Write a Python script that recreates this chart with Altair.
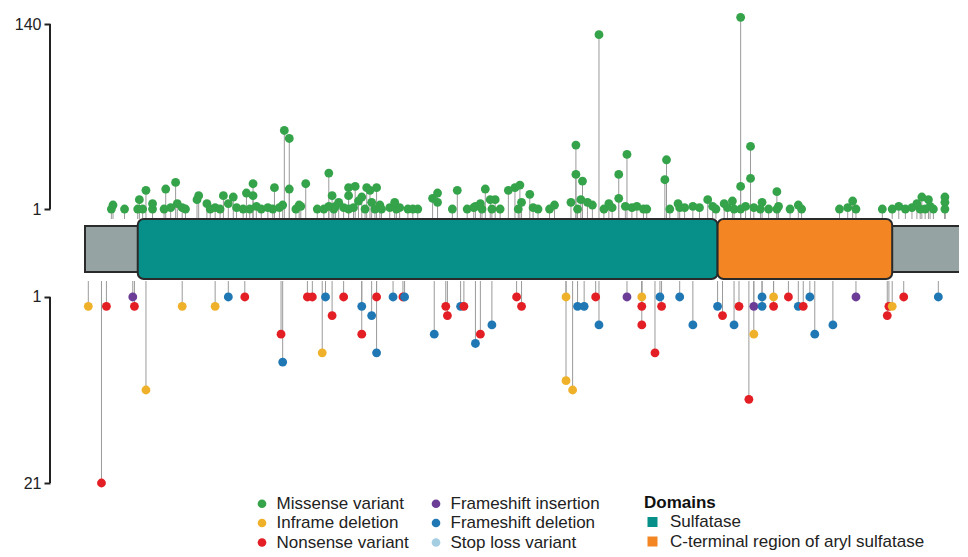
import altair as alt
import pandas as pd

FONT = "Liberation Sans, Arial, Helvetica, sans-serif"

# ---------------- protein & domains ----------------
protein_length = 533
domain_names = ["Sulfatase", "C-terminal region of aryl sulfatase"]
domain_start = [32, 384]
domain_end = [384, 490]
domain_colors = ["#078f89", "#f38522"]
backbone_color = "#96a3a3"

# ---------------- variant classes ----------------
variant_types = ["Missense variant", "Inframe deletion", "Nonsense variant",
                 "Frameshift insertion", "Frameshift deletion", "Stop loss variant"]
variant_colors = ["#35a34a", "#f0b12a", "#e31e24", "#6c3d97", "#1f77b4", "#a6cee3"]
type_codes = {"M": "Missense variant", "P": "Frameshift insertion", "I": "Inframe deletion",
              "D": "Frameshift deletion", "N": "Nonsense variant", "S": "Stop loss variant"}

top_ticks = [1, 140]
bottom_ticks = [1, 21]

# ---------------- top track (missense) ----------------
top_position = [16, 17, 24, 32, 33, 35, 37, 41, 41, 48, 49, 52, 55, 56, 59, 61, 68, 69, 74, 76,
                79, 82, 84, 87, 90, 92, 96, 98, 100, 102, 102, 104, 107, 111, 114, 115, 118, 120, 121, 124,
                124, 128, 130, 131, 134, 141, 145, 148, 148, 150, 151, 152, 154, 157, 160, 160, 160, 163, 164, 166,
                168, 170, 171, 173, 174, 176, 177, 179, 180, 185, 188, 189, 191, 196, 199, 202, 211, 214, 214, 223,
                226, 232, 236, 237, 240, 241, 243, 246, 247, 249, 252, 257, 261, 263, 264, 265, 270, 272, 275, 282,
                285, 295, 298, 298, 299, 301, 302, 305, 308, 312, 315, 318, 320, 324, 324, 328, 329, 332, 335, 339,
                341, 352, 353, 355, 360, 361, 364, 369, 373, 378, 381, 383, 388, 390, 393, 394, 398, 398, 398, 401,
                404, 404, 406, 410, 411, 415, 420, 420, 421, 428, 433, 435, 458, 463, 466, 468, 484, 490, 494, 498,
                502, 505, 507, 508, 510, 512, 513, 515, 522, 522, 522, 535]
top_count = [1, 4, 1, 1, 8, 1, 15, 1, 5, 1, 16, 2, 21, 5, 2, 1, 8, 11, 5, 1,
             2, 1, 11, 5, 10, 2, 1, 13, 1, 20, 11, 3, 1, 2, 1, 17, 2, 4, 60, 54,
             16, 1, 4, 3, 20, 1, 1, 28, 3, 11, 1, 3, 6, 2, 17, 1, 11, 2, 18, 7,
             10, 1, 17, 15, 6, 1, 17, 4, 1, 2, 6, 1, 2, 1, 1, 1, 9, 13, 6, 1,
             15, 1, 2, 3, 5, 1, 16, 8, 1, 8, 1, 15, 17, 1, 19, 6, 12, 2, 1, 1,
             4, 6, 49, 27, 1, 8, 22, 6, 4, 132, 1, 5, 2, 27, 9, 3, 42, 2, 3, 1,
             1, 23, 38, 1, 5, 2, 2, 3, 2, 8, 3, 1, 5, 2, 7, 1, 1, 145, 18, 3,
             48, 24, 2, 1, 6, 1, 14, 1, 3, 1, 4, 1, 1, 2, 7, 1, 1, 1, 3, 1,
             2, 5, 1, 10, 1, 8, 3, 1, 10, 6, 1, 3]

# ---------------- bottom track (truncating / indel) ----------------
bottom_position = [2, 10, 13, 29, 30, 37, 59, 79, 87, 97, 119, 120, 135, 138, 144, 146, 150, 157, 168, 168,
                   174, 177, 177, 187, 193, 194, 212, 219, 220, 228, 230, 237, 240, 247, 262, 265, 292, 292, 296, 299,
                   303, 310, 312, 329, 338, 338, 338, 346, 349, 350, 361, 369, 384, 387, 394, 397, 403, 406, 406, 411,
                   411, 418, 418, 427, 433, 436, 440, 443, 454, 468, 487, 488, 490, 497, 518, 534, 536]
bottom_count = [2, 21, 2, 1, 2, 11, 2, 2, 1, 1, 5, 8, 1, 1, 7, 1, 3, 1, 2, 5,
                3, 7, 1, 1, 1, 1, 5, 2, 3, 2, 2, 6, 5, 4, 1, 2, 1, 10, 11, 2,
                2, 1, 4, 1, 1, 2, 4, 7, 1, 2, 1, 4, 2, 3, 4, 2, 12, 2, 5, 1,
                2, 1, 2, 1, 2, 2, 1, 5, 4, 1, 3, 2, 2, 1, 1, 4, 14]
bottom_type = ["I", "N", "N", "P", "N", "I", "I", "I", "D", "N", "N", "D", "N", "N", "I", "D", "N", "N", "D", "N",
               "D", "D", "N", "D", "N", "D", "D", "N", "N", "D", "N", "D", "N", "D", "N", "N", "I", "I", "I", "D",
               "D", "N", "D", "P", "I", "N", "N", "N", "D", "N", "D", "D", "D", "N", "D", "N", "N", "P", "I", "D",
               "D", "I", "N", "N", "D", "N", "D", "D", "D", "P", "N", "N", "I", "N", "D", "N", "D"]

top_df = pd.DataFrame({"position": top_position, "count": top_count,
                       "type": ["Missense variant"] * len(top_position)})
bottom_df = pd.DataFrame({"position": bottom_position, "count": bottom_count,
                          "type": [type_codes[t] for t in bottom_type]})
domain_df = pd.DataFrame({"name": domain_names, "start": domain_start, "end": domain_end})
backbone_df = pd.DataFrame({"start": [0], "end": [protein_length]})
top_axis_df = pd.DataFrame({"lo": [top_ticks[0]], "hi": [top_ticks[1]]})
bottom_axis_df = pd.DataFrame({"lo": [bottom_ticks[0]], "hi": [bottom_ticks[1]]})

W = 909
H_TOP = 210
H_MID = 60
H_BOT = 212

x_scale = alt.Scale(domain=[-21.25, 530.55], nice=False, zero=False)
y_top_scale = alt.Scale(domain=[-6.51, 151.27], nice=False, zero=False)
y_bot_scale = alt.Scale(domain=[-0.935, 21.86], nice=False, zero=False, reverse=True)

LEG_FS = 17
color_scale = alt.Scale(domain=variant_types, range=variant_colors)
color_legend = alt.Legend(orient="none", legendX=203.5, legendY=486, columns=2, title=None,
                          symbolType="circle", symbolSize=75, symbolStrokeWidth=0,
                          labelFontSize=LEG_FS, labelFont=FONT, labelColor="#222222",
                          rowPadding=1.5, columnPadding=18, labelOffset=6, labelLimit=400)
fill_legend = alt.Legend(orient="none", legendX=594, legendY=486, title="Domains",
                         titleFontSize=LEG_FS, titleFont=FONT, titleFontWeight="bold", titleColor="#111111",
                         titlePadding=1.5, symbolType="square", symbolSize=100, symbolStrokeWidth=0,
                         labelFontSize=LEG_FS, labelFont=FONT, labelColor="#222222",
                         rowPadding=1.5, labelOffset=9, labelLimit=400)


def y_axis(ticks):
    return alt.Axis(values=ticks, domain=False, grid=False, ticks=True, tickSize=6, tickWidth=2,
                    tickColor="#222222", labelFontSize=16, labelFont=FONT, labelColor="#222222",
                    labelPadding=3, title=None)


stem_color = "#9a9a9a"
DOT = 78

# ---- top panel ----
top_base = alt.Chart(top_df)
top_stems = top_base.mark_rule(color=stem_color, strokeWidth=1, clip=True).encode(
    x=alt.X("position:Q", scale=x_scale, axis=None),
    y=alt.Y("count:Q", scale=y_top_scale, axis=y_axis(top_ticks)),
    y2=alt.value(H_TOP),
)
top_dots = top_base.mark_circle(size=DOT, opacity=1, clip=True).encode(
    x=alt.X("position:Q", scale=x_scale, axis=None),
    y=alt.Y("count:Q", scale=y_top_scale, axis=y_axis(top_ticks)),
    color=alt.Color("type:N", scale=color_scale, legend=color_legend),
)
top_line = alt.Chart(top_axis_df).mark_rule(color="#222222", strokeWidth=2).encode(
    x=alt.value(0),
    y=alt.Y("lo:Q", scale=y_top_scale, axis=y_axis(top_ticks)),
    y2="hi:Q",
)
top_chart = alt.layer(top_stems, top_line, top_dots).properties(width=W, height=H_TOP)

# ---- protein panel ----
backbone = alt.Chart(backbone_df).mark_rect(fill=backbone_color, stroke="#2a2a2a", strokeWidth=2,
                                            clip=True).encode(
    x=alt.X("start:Q", scale=x_scale, axis=None),
    x2="end:Q",
    y=alt.value(7),
    y2=alt.value(53),
)
domains = alt.Chart(domain_df).mark_rect(stroke="#2a2a2a", strokeWidth=2, cornerRadius=6).encode(
    x=alt.X("start:Q", scale=x_scale, axis=None),
    x2="end:Q",
    y=alt.value(0),
    y2=alt.value(H_MID),
    fill=alt.Fill("name:N", scale=alt.Scale(domain=domain_names, range=domain_colors), legend=fill_legend),
)
mid_chart = alt.layer(backbone, domains).properties(width=W, height=H_MID)

# ---- bottom panel ----
bot_base = alt.Chart(bottom_df)
bot_stems = bot_base.mark_rule(color=stem_color, strokeWidth=1, clip=True).encode(
    x=alt.X("position:Q", scale=x_scale, axis=None),
    y=alt.Y("count:Q", scale=y_bot_scale, axis=y_axis(bottom_ticks)),
    y2=alt.value(2),
)
bot_dots = bot_base.mark_circle(size=DOT, opacity=1, clip=True).encode(
    x=alt.X("position:Q", scale=x_scale, axis=None),
    y=alt.Y("count:Q", scale=y_bot_scale, axis=y_axis(bottom_ticks)),
    color=alt.Color("type:N", scale=color_scale, legend=color_legend),
)
bot_line = alt.Chart(bottom_axis_df).mark_rule(color="#222222", strokeWidth=2).encode(
    x=alt.value(0),
    y=alt.Y("lo:Q", scale=y_bot_scale, axis=y_axis(bottom_ticks)),
    y2="hi:Q",
)
bot_chart = alt.layer(bot_stems, bot_line, bot_dots).properties(width=W, height=H_BOT)

chart = alt.vconcat(top_chart, mid_chart, bot_chart, spacing=0, bounds="flush").properties(
    padding={"left": 5, "top": 0, "right": 0, "bottom": 0},
    background="white",
).configure_view(stroke="transparent")

chart.save("out.html", embed_options={"renderer": "svg", "actions": False})
